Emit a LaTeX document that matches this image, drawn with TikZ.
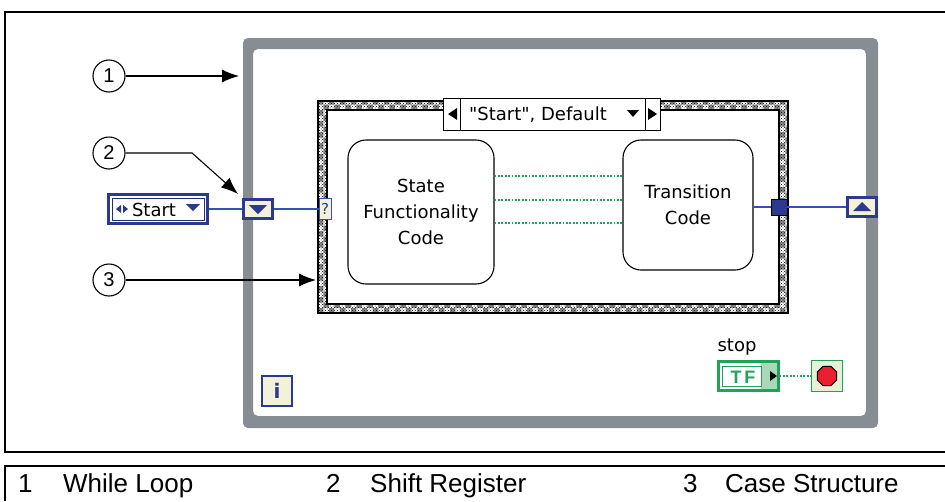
\documentclass[tikz,border=0pt]{standalone}
\usepackage{fontspec}
\setmainfont{Liberation Sans}
\newfontfamily\dv{DejaVu Sans}
\usetikzlibrary{arrows.meta,patterns,shapes.geometric,calc}
\definecolor{loopgray}{HTML}{878D93}
\definecolor{niblue}{HTML}{2B3A8F}
\definecolor{wireblue}{HTML}{3552B0}
\definecolor{nigreen}{HTML}{1FA35A}
\definecolor{cream}{HTML}{F3F1D8}
\definecolor{lgreen}{HTML}{A8D8B8}
\definecolor{stopred}{HTML}{E82030}
\definecolor{stopbg}{HTML}{E6F0D6}
\tikzset{
  circ/.style={draw, circle, line width=1.1, minimum size=32, inner sep=0, font=\fontsize{20}{20}\selectfont},
  callout/.style={line width=1.1, -{Latex[length=17,width=13]}},
  srbox/.style={draw=niblue, line width=2.5, fill=cream, minimum width=29, minimum height=19, inner sep=0},
  wire/.style={wireblue, line width=1.3},
  gdot/.style={nigreen, line width=1.8, dash pattern=on 1.8 off 1.6},
  codebox/.style={draw, line width=1.1, rounded corners=18, align=center, inner sep=0, font=\dv\fontsize{18}{26}\selectfont},
  dtext/.style={font=\dv\fontsize{18}{22}\selectfont, inner sep=0},
  legend/.style={anchor=base west, inner sep=0, font=\fontsize{26}{30}\selectfont}
}
\begin{document}
\begin{tikzpicture}[x=1pt,y=-1pt]
\useasboundingbox (0,0) rectangle (945,501);
% figure frames
\draw[line width=1.2] (945,12) -- (5,12) -- (5,452) -- (945,452);
\draw[line width=1.2] (945,466) -- (5,466) -- (5,501);
% while loop
\fill[loopgray, even odd rule, rounded corners=5] (243,38) rectangle (878,428) (253,49) rectangle (866,416);
% case structure
\fill[black!45] (318,101) rectangle (788,313);
\fill[pattern=checkerboard, pattern color=white] (318,101) rectangle (788,313);
\fill[pattern=crosshatch dots, pattern color=black] (318,101) rectangle (788,313);
\filldraw[fill=white, line width=1.1] (327,110) rectangle (779,304);
\node[draw, line width=1.1, minimum width=470, minimum height=212, inner sep=0] (case) at (553,207) {};
% selector label
\node[draw, fill=white, line width=1, minimum width=217, minimum height=32, inner sep=0] (clab) at (551.5,114) {};
\draw[line width=1] (460,98) -- (460,130);
\draw[line width=1] (645,98) -- (645,130);
\fill (448,114) -- (457,108) -- (457,120) -- cycle;
\fill (657,114) -- (648,108) -- (648,120) -- cycle;
\fill (627,110) -- (639,110) -- (633,117) -- cycle;
\node[dtext] (clabtxt) at (538,115) {"Start", Default};
% code boxes
\node[codebox, minimum width=146, minimum height=144] (state) at (421,212) {State\\Functionality\\Code};
\node[codebox, minimum width=130, minimum height=130] (trans) at (688,205) {Transition\\Code};
\draw[gdot] (state.east |- 0,176) -- (trans.west |- 0,176);
\draw[gdot] (state.east |- 0,200) -- (trans.west |- 0,200);
\draw[gdot] (state.east |- 0,223) -- (trans.west |- 0,223);
% enum control
\node[draw=niblue, line width=2.5, fill=white, minimum width=99, minimum height=29, inner sep=0] (enum) at (158,209) {};
\draw[niblue!80!black, line width=0.6] (112,198) rectangle (204,220);
\fill[niblue] (116,209) -- (121,205) -- (121,213) -- cycle;
\fill[niblue] (128,209) -- (123,205) -- (123,213) -- cycle;
\fill[niblue] (186,204) -- (200,204) -- (193,211) -- cycle;
\node[dtext] (enumtxt) at (154,210) {Start};
% shift registers and selector terminal
\node[srbox] (srL) at (258,209) {};
\fill[niblue] (249,205) -- (267,205) -- (258,214) -- cycle;
\node[srbox] (srR) at (862,207) {};
\fill[niblue] (853,211) -- (871,211) -- (862,202) -- cycle;
\node[draw=wireblue, line width=1, fill=cream, minimum width=12, minimum height=21, inner sep=0, font=\dv\fontsize{15}{15}\selectfont, text=niblue] (qsel) at (325,209) {?};
\node[draw=black, line width=0.8, fill=niblue, minimum size=16, inner sep=0] (sq) at (779,207) {};
\draw[wire] (enum.east) -- (srL.west);
\draw[wire] (srL.east) -- (qsel.west);
\draw[wire] (trans.east |- sq.west) -- (sq.west);
\draw[wire] (sq.east) -- (srR.west);
% iteration terminal
\node[draw=niblue, line width=2.5, fill=cream, minimum size=30, inner sep=0, font=\dv\bfseries\fontsize{20}{20}\selectfont, text=niblue] (iter) at (277,391) {i};
% stop
\node[dtext] (stoplbl) at (737,347) {stop};
\node[draw=nigreen, line width=3, fill=white, minimum width=60, minimum height=29, inner sep=0] (tf) at (748,376) {};
\fill[lgreen] (761,363) rectangle (777,389);
\draw[nigreen, line width=1] (722,366) rectangle (761,386);
\node[font=\bfseries\fontsize{18}{18}\selectfont, text=nigreen, inner sep=0] (tftxt) at (743,377) {T\,F};
\fill (770,371) -- (777,376) -- (770,381) -- cycle;
\node[draw=nigreen, line width=1.2, fill=stopbg, minimum size=31, inner sep=0] (stopb) at (827,376) {};
\node[regular polygon, regular polygon sides=8, fill=stopred, draw=black, line width=1, minimum size=21, inner sep=0] (oct) at (stopb) {};
\draw[gdot] (tf.east) -- (stopb.west);
% callouts
\node[circ] (c1) at (109,76) {1};
\node[circ] (c2) at (109,153) {2};
\node[circ] (c3) at (109,280) {3};
\coordinate (t1) at (239,76);
\coordinate (k2) at (192,153);
\coordinate (t2) at (238,194);
\coordinate (t3) at (316,280);
\draw[callout] (c1) -- (t1);
\draw[callout] (c2) -- (k2) -- (t2);
\draw[callout] (c3) -- (t3);
% legend
\node[legend] (n1) at (18,492) {1};
\node[legend] (l1) at (63,492) {While Loop};
\node[legend] (n2) at (326,492) {2};
\node[legend] (l2) at (370,492) {Shift Register};
\node[legend] (n3) at (683,492) {3};
\node[legend] (l3) at (725,492) {Case Structure};
\end{tikzpicture}
\end{document}
